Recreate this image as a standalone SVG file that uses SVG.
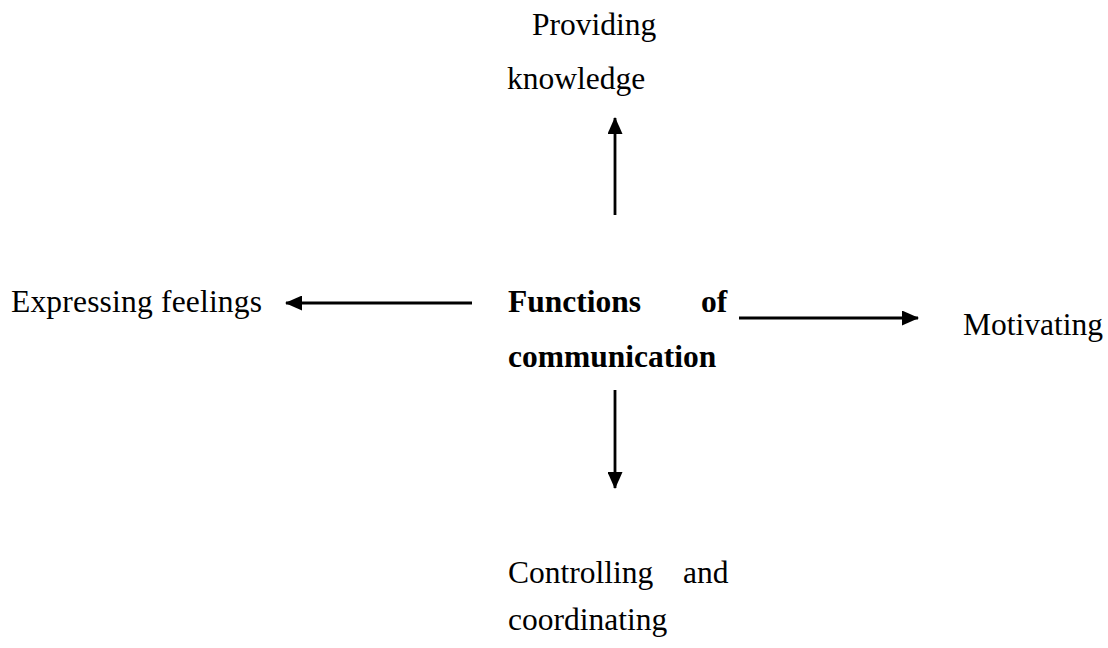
<svg xmlns="http://www.w3.org/2000/svg" width="1108" height="648" viewBox="0 0 1108 648">
  <style>
    .lbl { font-family: "Liberation Serif", "Times New Roman", serif; font-size: 31.5px; fill: #000; }
    .hub { font-weight: bold; }
    .conn { stroke: #000; stroke-width: 2.8; fill: none; }
  </style>
  <defs>
    <marker id="head" markerUnits="userSpaceOnUse" markerWidth="17" markerHeight="15" viewBox="0 0 17 15" refX="16" refY="7.5" orient="auto">
      <path d="M0,0 L17,7.5 L0,15 Z" fill="#000"/>
    </marker>
  </defs>
  <rect width="1108" height="648" fill="#fff"/>

  <g id="center">
    <text class="lbl hub" x="508" y="312">Functions</text>
    <text class="lbl hub" x="701" y="312">of</text>
    <text class="lbl hub" x="508" y="367">communication</text>
  </g>
  <g id="providing">
    <text class="lbl" x="532" y="35">Providing</text>
    <text class="lbl" x="507" y="89">knowledge</text>
  </g>
  <g id="expressing">
    <text class="lbl" x="11" y="312" textLength="251">Expressing feelings</text>
  </g>
  <g id="motivating">
    <text class="lbl" x="963" y="335">Motivating</text>
  </g>
  <g id="controlling">
    <text class="lbl" x="508" y="583">Controlling</text>
    <text class="lbl" x="683" y="583">and</text>
    <text class="lbl" x="508" y="630">coordinating</text>
  </g>

  <g id="connectors">
    <line class="conn" x1="615" y1="215" x2="615" y2="118" marker-end="url(#head)"/>
    <line class="conn" x1="472" y1="303" x2="286" y2="303" marker-end="url(#head)"/>
    <line class="conn" x1="739" y1="318" x2="918" y2="318" marker-end="url(#head)"/>
    <line class="conn" x1="615" y1="390" x2="615" y2="488" marker-end="url(#head)"/>
  </g>
</svg>
